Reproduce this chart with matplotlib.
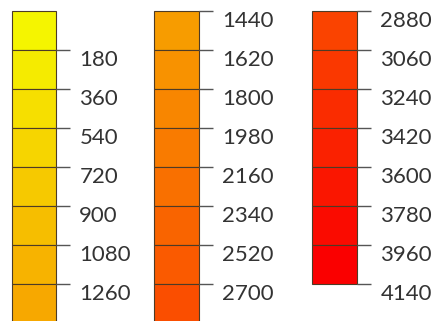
import matplotlib
matplotlib.use("Agg")
import matplotlib.pyplot as plt
from matplotlib.colors import LinearSegmentedColormap, Normalize

# Data: class boundaries for each of the three legend columns
col1_bounds = [0, 180, 360, 540, 720, 900, 1080, 1260, 1440]
col2_bounds = [1440, 1620, 1800, 1980, 2160, 2340, 2520, 2700, 2880]
col3_bounds = [2880, 3060, 3240, 3420, 3600, 3780, 3960, 4140]
col1_ticks = [180, 360, 540, 720, 900, 1080, 1260]
col2_ticks = [1440, 1620, 1800, 1980, 2160, 2340, 2520, 2700]
col3_ticks = [2880, 3060, 3240, 3420, 3600, 3780, 3960, 4140]

columns = [(col1_bounds, col1_ticks), (col2_bounds, col2_ticks), (col3_bounds, col3_ticks)]

cmap = LinearSegmentedColormap.from_list("ylrd", ["#F5F500", "#F7A400", "#FA5200", "#FA0000"])
vmin, vmax = 90, 4050
norm = Normalize(vmin=vmin, vmax=vmax)

W, H = 437, 321
dpi = 100
fig = plt.figure(figsize=(W / dpi, H / dpi), dpi=dpi)
fig.patch.set_facecolor("white")

# layout in pixels: (left, right) of each box, top at y=11, 39 px per class
box_x = [(12, 56), (154, 199), (312, 357)]
top_px = 11
cell_px = 39

for (bounds, ticks), (x0, x1) in zip(columns, box_x):
    n = len(bounds) - 1
    h_px = n * cell_px
    bottom_px = top_px + h_px
    ax = fig.add_axes([x0 / W, (H - bottom_px) / H, (x1 - x0) / W, h_px / H])
    for lo, hi in zip(bounds[:-1], bounds[1:]):
        mid = (lo + hi) / 2
        ax.bar(0.5, hi - lo, bottom=lo, width=1.0, color=cmap(norm(mid)),
               edgecolor="#4d3b26", linewidth=0.8, clip_on=False)
    ax.set_xlim(0, 1)
    ax.set_ylim(bounds[-1], bounds[0])
    for s in ax.spines.values():
        s.set_visible(False)
    ax.set_xticks([])
    ax.yaxis.tick_right()
    ax.set_yticks(ticks)
    ax.set_yticklabels([str(t) for t in ticks])
    ax.tick_params(axis="y", length=9.8, width=1.0, color="#555555",
                   direction="out", pad=7, labelsize=16, labelcolor="#333333")
    for lab in ax.get_yticklabels():
        lab.set_verticalalignment("top")
        lab.set_fontfamily("Lato")

fig.savefig("out.png", dpi=dpi, facecolor="white")
